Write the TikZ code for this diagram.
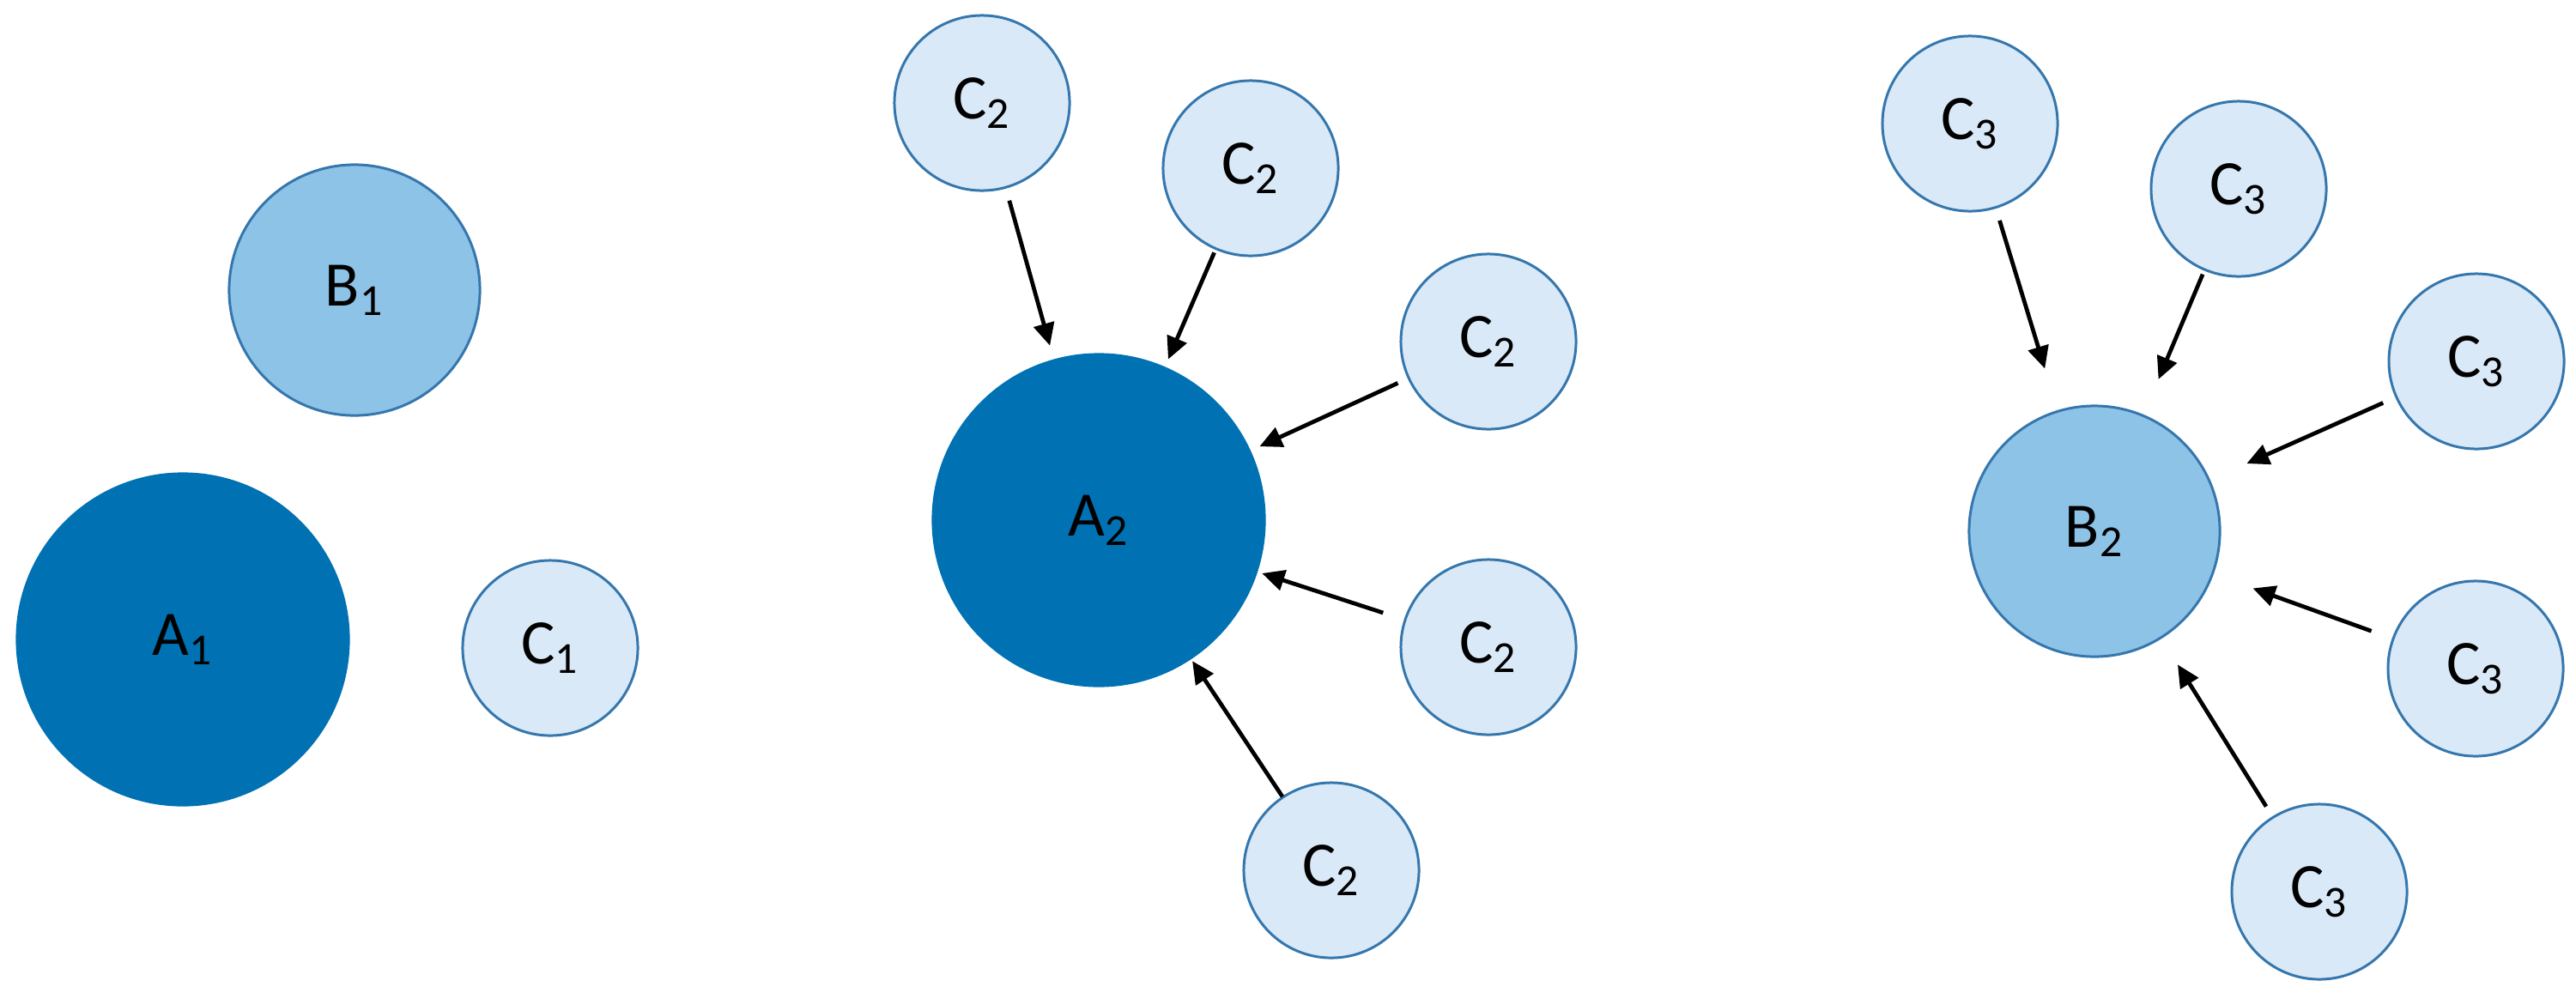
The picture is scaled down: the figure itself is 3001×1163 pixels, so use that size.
\documentclass[tikz,border=0pt]{standalone}
\usepackage{fontspec}
\setmainfont{Carlito}
\usepackage{tikz}
\usetikzlibrary{arrows.meta}
\definecolor{hubDark}{HTML}{0071B3}
\definecolor{hubLight}{HTML}{8EC3E8}
\definecolor{leafFill}{HTML}{DAE9F7}
\definecolor{rimBlue}{HTML}{3577AD}

\begin{document}
\begin{tikzpicture}[x=0.01cm, y=-0.01cm, >=Triangle,
      font=\fontsize{21}{25}\selectfont,
      anode/.style={circle, draw=hubDark, fill=hubDark, line width=0.85pt, minimum size=3.86cm, inner sep=0pt, outer sep=0pt},
      bnode/.style={circle, draw=rimBlue, fill=hubLight, line width=0.85pt, minimum size=2.92cm, inner sep=0pt, outer sep=0pt},
      cnode/.style={circle, draw=rimBlue, fill=leafFill, line width=0.85pt, minimum size=2.04cm, inner sep=0pt, outer sep=0pt},
      spoke/.style={->, line width=1.35pt, arrows={-Triangle[length=0.26cm, width=0.24cm]}}]
    \useasboundingbox (0,0) rectangle (3001,1163);
    % ---- before: three separate nodes
    \node[anode] (a1) at (213,745) {A\textsubscript{1}};
    \node[bnode] (b1) at (413,338) {B\textsubscript{1}};
    \node[cnode] (c1) at (641,755) {C\textsubscript{1}};
    % ---- C pulled into A
    \node[anode] (a2) at (1280,606) {A\textsubscript{2}};
    \foreach \n/\x/\y/\s/\e in {a/1144/120/0.16cm/0.18cm, b/1457/196/0.05cm/0.11cm,
        c/1734/398/0.14cm/0.13cm, d/1734/754/0.27cm/0.07cm, e/1551/1014/0.01cm/0.04cm} {
      \node[cnode] (c2\n) at (\x,\y) {C\textsubscript{2}};
      \draw[spoke, shorten <=\s, shorten >=\e] (c2\n) -- (a2);
    }
    % ---- C pulled into B
    \node[bnode] (b2) at (2440,619) {B\textsubscript{2}};
    \foreach \n/\x/\y/\s/\e in {a/2295/144/0.16cm/0.52cm, b/2608/220/0.06cm/0.46cm,
        c/2885/421/0.17cm/0.48cm, d/2884/779/0.27cm/0.50cm, e/2702/1039/0.15cm/0.37cm} {
      \node[cnode] (c3\n) at (\x,\y) {C\textsubscript{3}};
      \draw[spoke, shorten <=\s, shorten >=\e] (c3\n) -- (b2);
    }
  \end{tikzpicture}
\end{document}
